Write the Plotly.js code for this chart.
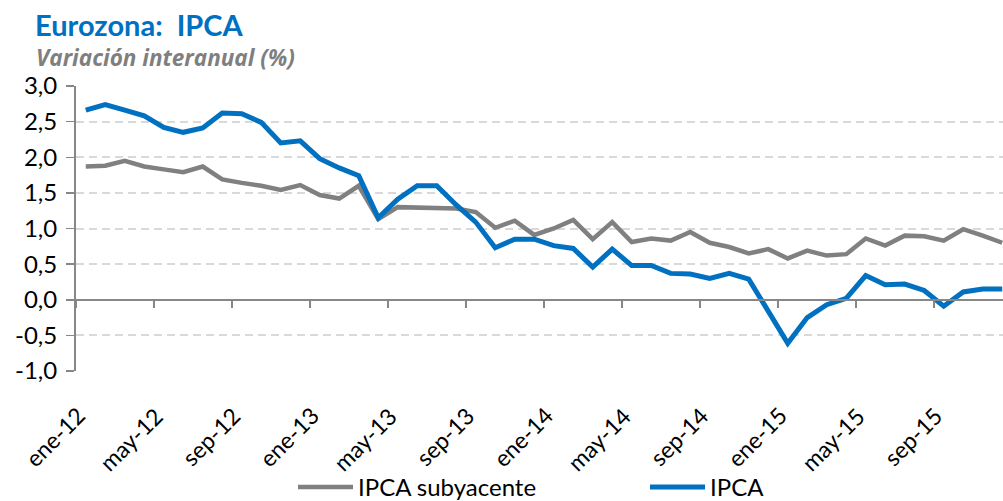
<!DOCTYPE html>
<html>
<head>
<meta charset="utf-8">
<script src="https://cdn.plot.ly/plotly-3.0.1.min.js"></script>
<style>
html,body{margin:0;padding:0;overflow:hidden;background:#fff;}
#chart{width:1003px;height:510px;}
</style>
</head>
<body>
<div id="chart"></div>
<script>
// Months ene-12 .. dic-15
const monthNames = ['ene','feb','mar','abr','may','jun','jul','ago','sep','oct','nov','dic'];
const years = ['12','13','14','15'];
const categories = [];
years.forEach(y => monthNames.forEach(m => categories.push(m + '-' + y)));

const ipcaSubyacente = [
  1.87, 1.88, 1.95, 1.87, 1.83, 1.79, 1.87, 1.69, 1.64, 1.60, 1.54, 1.61,
  1.47, 1.42, 1.60, 1.13, 1.30, 1.29, 1.28, 1.28, 1.23, 1.01, 1.11, 0.91,
  1.00, 1.12, 0.85, 1.09, 0.81, 0.86, 0.83, 0.95, 0.80, 0.74, 0.65, 0.71,
  0.58, 0.69, 0.62, 0.64, 0.86, 0.76, 0.90, 0.89, 0.83, 0.99, 0.90, 0.80
];
const ipca = [
  2.66, 2.74, 2.66, 2.58, 2.42, 2.35, 2.41, 2.62, 2.61, 2.49, 2.20, 2.23,
  1.98, 1.85, 1.74, 1.15, 1.41, 1.60, 1.60, 1.33, 1.09, 0.73, 0.85, 0.85,
  0.76, 0.72, 0.46, 0.71, 0.48, 0.48, 0.37, 0.36, 0.30, 0.37, 0.29, -0.15,
  -0.61, -0.25, -0.07, 0.02, 0.34, 0.21, 0.22, 0.13, -0.09, 0.11, 0.15, 0.15
];

const xTickLabels = ['ene-12','may-12','sep-12','ene-13','may-13','sep-13','ene-14','may-14','sep-14','ene-15','may-15','sep-15'];
const yTickVals = [-1, -0.5, 0, 0.5, 1, 1.5, 2, 2.5, 3];
const yTickText = ['-1,0','-0,5','0,0','0,5','1,0','1,5','2,0','2,5','3,0'];
const boundaryTicks = [-0.5, 3.5, 7.5, 11.5, 15.5, 19.5, 23.5, 27.5, 31.5, 35.5, 39.5, 43.5, 47.5];

const FONT = 'Lato, "Open Sans", sans-serif';
const GRAY = '#808080';
const BLUE = '#0070C0';
const AXIS = '#878787';
const H = 510;

const traces = [
  {x: categories, y: ipcaSubyacente, type: 'scatter', mode: 'lines', name: 'IPCA subyacente',
   line: {color: GRAY, width: 4.5}, legend: 'legend'},
  {x: categories, y: ipca, type: 'scatter', mode: 'lines', name: 'IPCA',
   line: {color: BLUE, width: 5}, legend: 'legend2'}
];

const legendCommon = {
  orientation: 'h', yanchor: 'middle', y: -(488 - 371) / 285,
  xanchor: 'left', font: {family: FONT, size: 24, color: '#000'},
  itemwidth: 55, bgcolor: 'rgba(0,0,0,0)', borderwidth: 0
};

// rotated category labels (drawn as annotations at each labelled category)
const tickAnnotations = xTickLabels.map(lbl => ({
  text: lbl, xref: 'x', x: lbl, yref: 'paper', y: -28/285,
  xanchor: 'right', yanchor: 'top', xshift: 7, textangle: -45,
  showarrow: false, font: {family: FONT, size: 23, color: '#000'}
}));

const layout = {
  width: 1003, height: H,
  margin: {l: 76, r: 0, t: 86, b: H - 371, pad: 0},
  paper_bgcolor: '#fff', plot_bgcolor: '#fff',
  font: {family: FONT, color: '#000', size: 22},
  showlegend: true,
  title: {
    text: '<b>Eurozona:\u00a0 IPCA</b>',
    font: {family: FONT, size: 29, color: BLUE},
    x: 35/1003, xanchor: 'left', xref: 'container',
    y: 1 - 26/H, yanchor: 'middle', yref: 'container'
  },
  annotations: [{
    text: '<b><i>Variación interanual (%)</i></b>',
    xref: 'paper', yref: 'paper', x: -42/927, y: 1 + 28/285,
    xanchor: 'left', yanchor: 'middle', showarrow: false,
    font: {family: '"Open Sans", sans-serif', size: 22.5, color: '#7f7f7f'}
  }].concat(tickAnnotations),
  xaxis: {
    type: 'category',
    range: [-0.5, 47.04],
    showticklabels: false, ticks: '',
    showline: false, showgrid: false, zeroline: false,
    automargin: false, fixedrange: true
  },
  xaxis2: {
    type: 'linear', overlaying: 'x', anchor: 'free', position: 0.25,
    range: [-0.5, 47.04],
    tickmode: 'array', tickvals: boundaryTicks, showticklabels: false,
    ticks: 'outside', ticklen: 7, tickwidth: 1.5, tickcolor: AXIS,
    showline: true, linecolor: AXIS, linewidth: 2, showgrid: false, zeroline: false,
    automargin: false, fixedrange: true
  },
  yaxis: {
    range: [-1, 3],
    tickmode: 'array', tickvals: yTickVals, ticktext: yTickText,
    ticks: 'outside', ticklen: 8, tickwidth: 1.5, tickcolor: AXIS,
    showline: true, linecolor: AXIS, linewidth: 2,
    showgrid: true, gridcolor: '#d9d9d9', gridwidth: 2, griddash: '8px,5px',
    zeroline: false,
    tickfont: {family: FONT, size: 24, color: '#000'},
    ticklabelstandoff: 4,
    automargin: false, fixedrange: true
  },
  legend: Object.assign({}, legendCommon, {x: (293 - 76) / 927}),
  legend2: Object.assign({}, legendCommon, {x: (645 - 76) / 927})
};

// invisible helper trace so the overlaid boundary-tick axis is drawn
traces.push({x: boundaryTicks, y: boundaryTicks.map(() => null), xaxis: 'x2', yaxis: 'y',
  type: 'scatter', mode: 'lines', showlegend: false, hoverinfo: 'skip'});

Plotly.newPlot('chart', traces, layout, {displayModeBar: false, staticPlot: true});
</script>
</body>
</html>
